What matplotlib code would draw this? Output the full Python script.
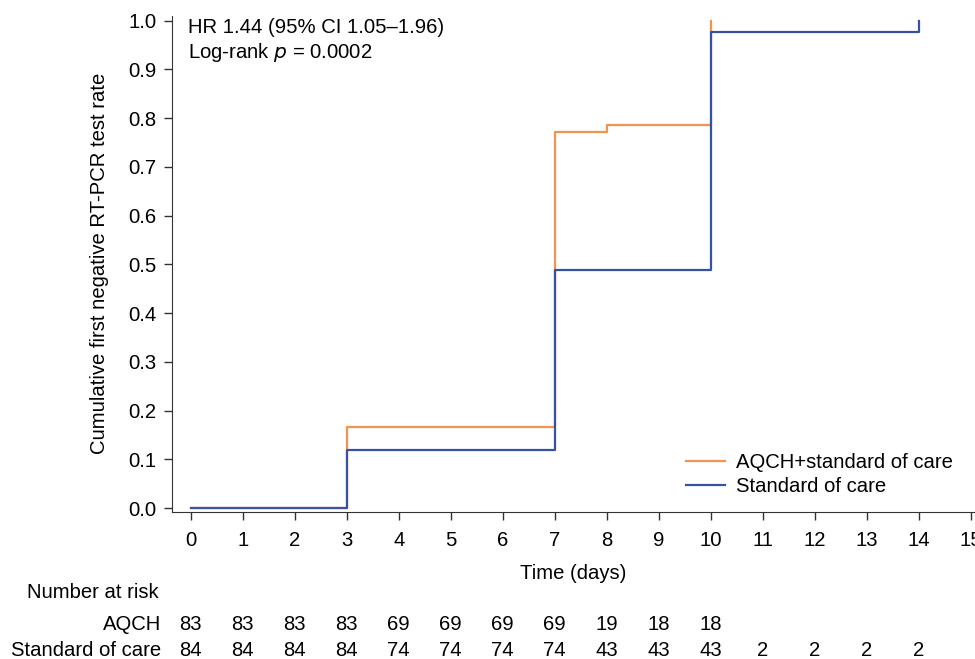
import matplotlib.pyplot as plt
import matplotlib.transforms as mtransforms

plt.rcParams['font.family'] = ['Liberation Sans', 'DejaVu Sans']

# Curvas de Kaplan-Meier (incidência acumulada)
aqch_t = [0, 3, 7, 8, 10]
aqch_y = [0.0, 0.167, 0.771, 0.786, 1.0]
soc_t = [0, 3, 7, 10, 14]
soc_y = [0.0, 0.119, 0.488, 0.976, 1.0]

# Tabela de número em risco
risk_days = list(range(15))
aqch_risk = [83, 83, 83, 83, 69, 69, 69, 69, 19, 18, 18]
soc_risk = [84, 84, 84, 84, 74, 74, 74, 74, 43, 43, 43, 2, 2, 2, 2]

orange = '#F6924F'
blue = '#3552A8'
fs = 14.6

fig = plt.figure(figsize=(9.75, 6.59), dpi=100)
ax = fig.add_axes([172 / 975, 0.2235, 1 - 172 / 975, 0.976 - 0.2235])

ax.step(aqch_t, aqch_y, where='post', color=orange, lw=1.6, label='AQCH+standard of care')
ax.step(soc_t, soc_y, where='post', color=blue, lw=1.6, label='Standard of care')

ax.set_xlim(-0.36, 15.08)
ax.set_ylim(-0.0076, 1.01)
ax.set_xticks(range(16))
ax.set_yticks([i / 10 for i in range(11)])
ax.set_yticklabels([f'{i / 10:.1f}' for i in range(11)])
ax.tick_params(labelsize=fs, length=6, width=1, color='#333333')
ax.tick_params(axis='x', pad=8)
ax.tick_params(axis='y', pad=5)
ax.spines['top'].set_visible(False)
ax.spines['right'].set_visible(False)
for s in ('left', 'bottom'):
    ax.spines[s].set_color('#333333')

ax.set_xlabel('Time (days)', fontsize=fs, labelpad=10)
ax.set_ylabel('Cumulative first negative RT-PCR test rate', fontsize=fs, labelpad=14)

ax.text(-0.05, 0.985, 'HR 1.44 (95% CI 1.05\u20131.96)', fontsize=fs, va='center')
ax.text(-0.05, 0.935, 'Log-rank $\\it{p}$ = 0.0002', fontsize=fs, va='center')

ax.legend(loc='lower right', bbox_to_anchor=(0.995, -0.005), frameon=False,
          fontsize=fs, handlelength=1.9, handletextpad=0.55, labelspacing=0.25)

# Número em risco
trans = mtransforms.blended_transform_factory(ax.transData, fig.transFigure)
fig.text(27 / 975, 1 - 592 / 659, 'Number at risk', fontsize=fs, va='center')
fig.text(161 / 975, 1 - 624 / 659, 'AQCH', fontsize=fs, va='center', ha='right')
fig.text(161 / 975, 1 - 651 / 659, 'Standard of care', fontsize=fs, va='center', ha='right')
for d, n in zip(risk_days, aqch_risk):
    ax.text(d, 1 - 624 / 659, str(n), transform=trans, fontsize=fs, ha='center', va='center')
for d, n in zip(risk_days, soc_risk):
    ax.text(d, 1 - 651 / 659, str(n), transform=trans, fontsize=fs, ha='center', va='center')

fig.savefig('out.png', dpi=100)
